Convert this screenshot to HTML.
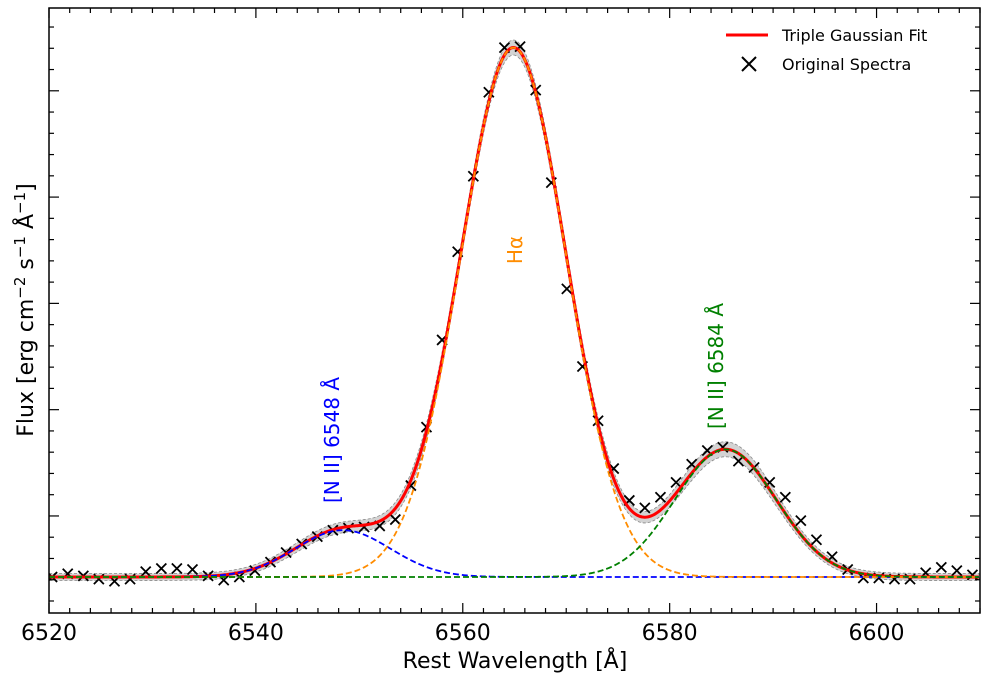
<!DOCTYPE html>
<html><head><meta charset="utf-8"><style>
body{margin:0;background:#fff}
svg{display:block;font-family:"DejaVu Sans","Liberation Sans",sans-serif}
</style></head><body>
<svg id="chart" width="990" height="685" viewBox="0 0 990 685" xmlns="http://www.w3.org/2000/svg">
<defs><clipPath id="clip"><rect x="49" y="8" width="931" height="605"/></clipPath></defs>
<g id="plot" clip-path="url(#clip)"></g>
<g id="axes"></g>
<text x="515" y="668" font-size="22" text-anchor="middle">Rest Wavelength [Å]</text>
<text transform="translate(33,310) rotate(-90)" font-size="22" text-anchor="middle">Flux [erg cm<tspan dy="-8" font-size="15">−2</tspan><tspan dy="8"> s</tspan><tspan dy="-8" font-size="15">−1</tspan><tspan dy="8"> Å</tspan><tspan dy="-8" font-size="15">−1</tspan><tspan dy="8">]</tspan></text>
<text transform="translate(522,250) rotate(-90)" font-size="20" fill="#ff8c00" text-anchor="middle">Hα</text>
<text transform="translate(339,440) rotate(-90)" font-size="20" fill="#0000ff" text-anchor="middle">[N II] 6548 Å</text>
<text transform="translate(723,366) rotate(-90)" font-size="20" fill="#008000" text-anchor="middle">[N II] 6584 Å</text>
<g>
<line x1="726" y1="35" x2="768" y2="35" stroke="#ff0000" stroke-width="3"/>
<text x="782" y="41" font-size="16">Triple Gaussian Fit</text>
<path d="M742 57 L756 71 M756 57 L742 71" stroke="#000" stroke-width="2"/>
<text x="782" y="70" font-size="16">Original Spectra</text>
</g>
</svg>
<script>
const waves=[6520.30,6521.81,6523.32,6524.82,6526.33,6527.84,6529.35,6530.86,6532.36,6533.87,6535.38,6536.89,6538.40,6539.90,6541.41,6542.92,6544.43,6545.94,6547.44,6548.95,6550.46,6551.97,6553.48,6554.98,6556.49,6558.00,6559.51,6561.02,6562.52,6564.03,6565.54,6567.05,6568.56,6570.06,6571.57,6573.08,6574.59,6576.10,6577.60,6579.11,6580.62,6582.13,6583.64,6585.14,6586.65,6588.16,6589.67,6591.18,6592.68,6594.19,6595.70,6597.21,6598.72,6600.22,6601.73,6603.24,6604.75,6606.26,6607.76,6609.27];
const flux=[0,0.03,0.01,-0.02,-0.04,-0.02,0.05,0.08,0.08,0.07,0.01,-0.03,0,0.06,0.14,0.23,0.31,0.38,0.44,0.46,0.47,0.48,0.54,0.86,1.41,2.23,3.06,3.77,4.56,4.98,4.99,4.58,3.71,2.71,1.98,1.47,1.02,0.72,0.65,0.75,0.89,1.06,1.19,1.22,1.09,1.03,0.89,0.75,0.53,0.35,0.19,0.07,-0.01,-0.01,-0.02,-0.02,0.04,0.09,0.06,0.02];
const lineNames=["nii-6548","halpha","nii-6584"];
const centers=[6548.4,6564.9,6585.4];
const amps=[0.44,4.98,1.2];
const sigmas=[4.6,5.1,4.9];
const xTicks=[6520,6540,6560,6580,6600];
const yTicks=[0.574,1.574,2.574,3.574,4.574];
const xMin=6520,xMax=6610,yMin=-0.339,yMax=5.353;
const L=49,R=980,T=8,B=613;
const NS="http://www.w3.org/2000/svg";
const sx=v=>L+(v-xMin)/(xMax-xMin)*(R-L);
const sy=v=>B-(v-yMin)/(yMax-yMin)*(B-T);
function mk(tag,attrs,parent){const e=document.createElementNS(NS,tag);for(const k in attrs)e.setAttribute(k,attrs[k]);parent.appendChild(e);return e;}
const plot=document.getElementById('plot'),axes=document.getElementById('axes');
const g=(i,x)=>amps[i]*Math.exp(-Math.pow(x-centers[i],2)/(2*sigmas[i]*sigmas[i]));
const total=x=>{let s=0;for(let i=0;i<amps.length;i++)s+=g(i,x);return s;};
const grid=[];for(let x=xMin;x<=xMax;x+=0.1)grid.push(x);
const hw=x=>3.5+4*Math.min(total(x),1);
let up=grid.map(x=>sx(x)+','+(sy(total(x))-hw(x))),dn=grid.slice().reverse().map(x=>sx(x)+','+(sy(total(x))+hw(x)));
const band=mk('polygon',{points:up.concat(dn).join(' '),fill:'#d3d3d3',stroke:'#888','stroke-dasharray':'3,2','stroke-width':0.8},plot);


for(let i=0;i<waves.length;i++){const x=sx(waves[i]),y=sy(flux[i]);
const c=mk('path',{d:`M${x-5} ${y-5}L${x+5} ${y+5}M${x+5} ${y-5}L${x-5} ${y+5}`,stroke:'#000','stroke-width':1.8},plot);

}
const fit=mk('polyline',{points:grid.map(x=>sx(x)+','+sy(total(x))).join(' '),fill:'none',stroke:'#ff0000','stroke-width':3},plot);


const cols=['#0000ff','#ff8c00','#008000'];
for(let i=0;i<amps.length;i++){
const p=mk('polyline',{points:grid.map(x=>sx(x)+','+sy(g(i,x))).join(' '),fill:'none',stroke:cols[i],'stroke-width':1.8,'stroke-dasharray':'6,3'},plot);

}
const fr=mk('rect',{x:L,y:T,width:R-L,height:B-T,fill:'none',stroke:'#000','stroke-width':1.5},axes);


for(let v=xMin;v<=xMax;v+=2){const major=xTicks.includes(v);const len=major?10:5;const x=sx(v);
mk('line',{x1:x,y1:B,x2:x,y2:B-len,stroke:'#000','stroke-width':1.2},axes);
mk('line',{x1:x,y1:T,x2:x,y2:T+len,stroke:'#000','stroke-width':1.2},axes);}
xTicks.forEach(v=>{const t=mk('text',{x:sx(v),y:640,'font-size':22,'text-anchor':'middle'},axes);t.textContent=v;

});
const step=(yTicks[1]-yTicks[0])/5;
for(let v=yTicks[0]-step*5;v<=yMax;v+=step){if(v<yMin)continue;const major=yTicks.some(t=>Math.abs(t-v)<1e-6);const len=major?10:5;const y=sy(v);
mk('line',{x1:L,y1:y,x2:L+len,y2:y,stroke:'#000','stroke-width':1.2},axes);
mk('line',{x1:R,y1:y,x2:R-len,y2:y,stroke:'#000','stroke-width':1.2},axes);}
</script>
</body></html>
